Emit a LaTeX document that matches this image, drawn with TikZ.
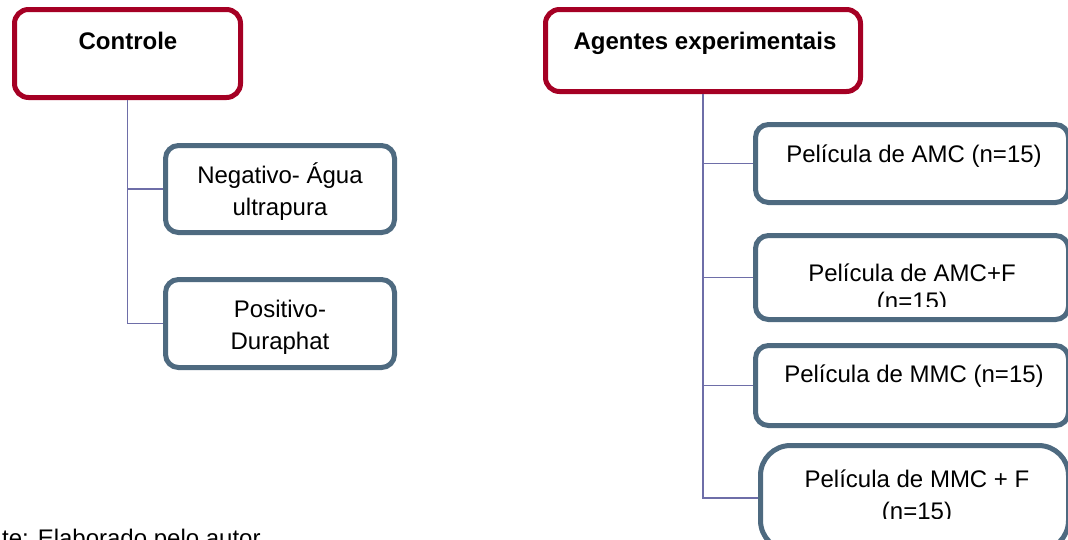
\documentclass[tikz,border=0pt]{standalone}
\usepackage{fontspec}
\setmainfont{Liberation Sans}
\definecolor{boxred}{RGB}{165,0,36}
\definecolor{boxblue}{RGB}{78,106,128}
\definecolor{linkc}{RGB}{110,110,168}
\tikzset{
  redbox/.style={draw=boxred, line width=5pt, rounded corners=14pt, fill=white, inner sep=0pt},
  bluebox/.style={draw=boxblue, line width=5pt, rounded corners=13pt, fill=white, inner sep=0pt},
  boxtext/.style={inner sep=0pt, align=center, font=\fontsize{24}{32}\selectfont},
  headtext/.style={inner sep=0pt, align=center, font=\fontsize{24}{32}\selectfont\bfseries},
  conn/.style={draw=linkc, line width=1.6pt}
}
\begin{document}
\begin{tikzpicture}[x=1pt,y=-1pt]
\useasboundingbox (0,0) rectangle (1068,539);
\clip (0,0) rectangle (1068,539);
% header boxes
\node[redbox, minimum width=226pt, minimum height=88pt] (ctrl) at (127.5,53.5) {};
\node[redbox, minimum width=315pt, minimum height=82pt] (agen) at (703,50.5) {};
\node[headtext] (ctrlt) at (128,41) {Controle};
\node[headtext] (agent) at (705,43) {Agentes experimentais};
% left boxes
\node[bluebox, minimum width=229pt, minimum height=87pt] (neg) at (280,189) {};
\node[bluebox, minimum width=229pt, minimum height=88pt] (pos) at (280,323.5) {};
\node[boxtext] (negt) at (280,192) {Negativo- Água\\ultrapura};
\node[boxtext] (post) at (280,327) {Positivo-\\Duraphat};
% right boxes
\node[bluebox, minimum width=313pt, minimum height=78pt] (amc) at (912,163.5) {};
\node[bluebox, minimum width=313pt, minimum height=84pt] (amcf) at (912,277.5) {};
\node[bluebox, minimum width=313pt, minimum height=80pt] (mmc) at (912,385.5) {};
\node[bluebox, rounded corners=30pt, minimum width=308pt, minimum height=105pt] (mmcf) at (914.5,498) {};
\node[boxtext] (amct) at (914,156) {Película de AMC (n=15)};
\begin{scope}
\clip (750,230) rectangle (1068,306);
\node[boxtext, font=\fontsize{24}{28}\selectfont] (amcft) at (912,289) {Película de AMC+F\\(n=15)};
\end{scope}
\node[boxtext] (mmct) at (914,376) {Película de MMC (n=15)};
\begin{scope}
\clip (755,440) rectangle (1068,518);
\node[boxtext] (mmcft) at (917,497) {Película de MMC + F\\(n=15)};
\end{scope}
% connectors
\draw[conn] (ctrl.south) |- (neg.west);
\draw[conn] (ctrl.south) |- (pos.west);
\draw[conn] (agen.south) |- (amc.west);
\draw[conn] (agen.south) |- (amcf.west);
\draw[conn] (agen.south) |- (mmc.west);
\draw[conn] (agen.south) |- (mmcf.west);
% source line (cut off at the bottom, as in the reference)
\node[anchor=base west, inner sep=0pt, font=\fontsize{24}{28}\selectfont] (src) at (2,546) {te: Elaborado pelo autor};
\end{tikzpicture}
\end{document}
